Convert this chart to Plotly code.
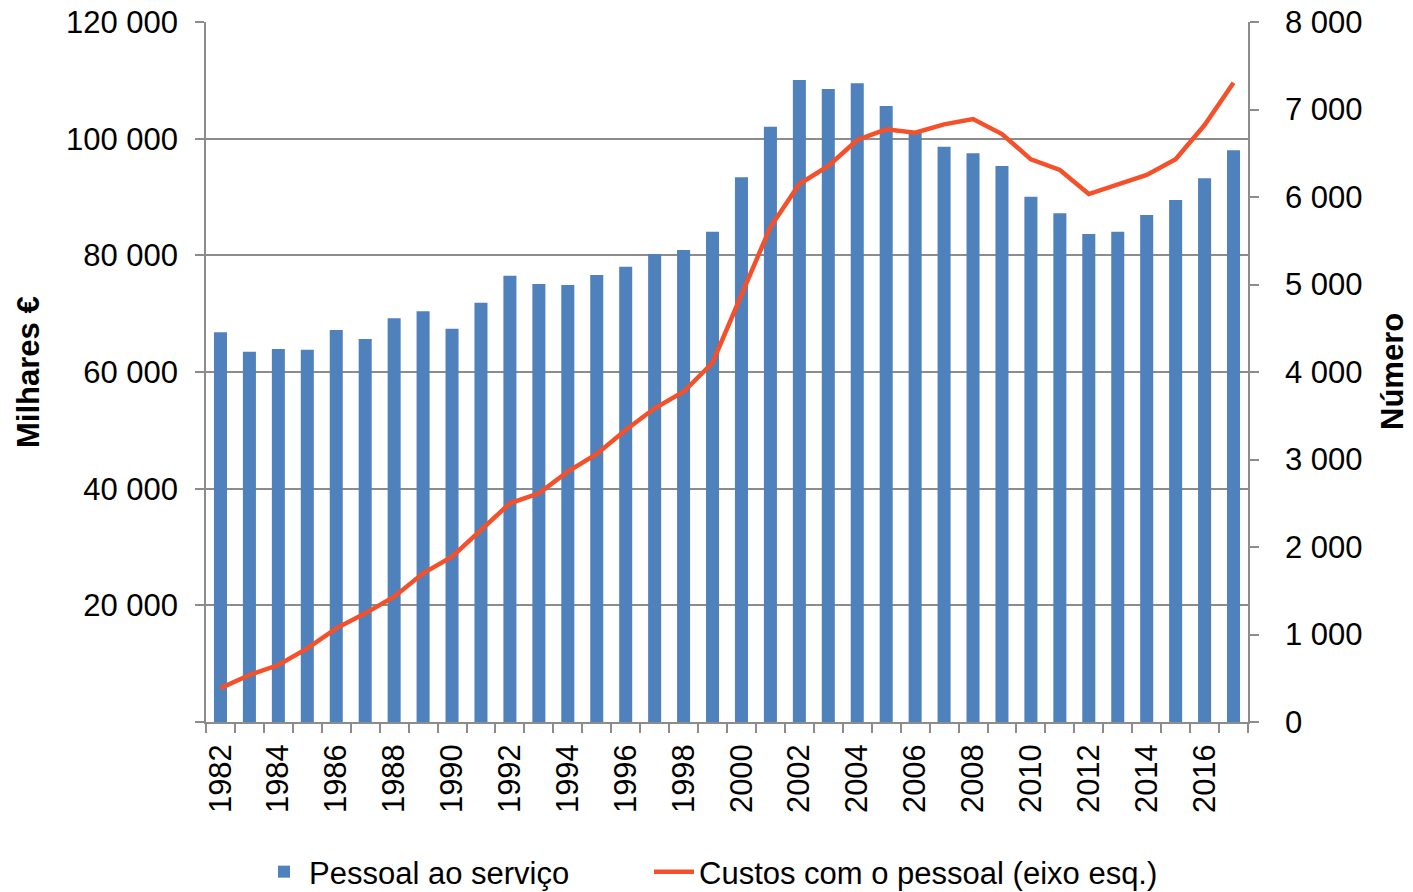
import plotly.graph_objects as go

years = list(range(1982, 2018))

# Pessoal ao serviço (Número, right axis)
pessoal = [4454, 4232, 4263, 4255, 4480, 4377, 4614, 4694, 4495, 4792,
           5101, 5006, 4994, 5109, 5203, 5349, 5394, 5603, 6225, 6803,
           7337, 7234, 7299, 7040, 6731, 6575, 6499, 6354, 6003, 5814,
           5577, 5603, 5794, 5966, 6214, 6534]

# Custos com o pessoal (Milhares €, left axis)
custos = [5800, 8060, 9770, 12630, 16060, 18630, 21480, 25490, 28340, 32910,
          37490, 39210, 42910, 45940, 50060, 53780, 56620, 61590, 73200, 84860,
          92230, 95310, 99770, 101610, 101020, 102460, 103370, 100800, 96460, 94630,
          90510, 92060, 93770, 96460, 102340, 109590]

left_ticks = [0, 20000, 40000, 60000, 80000, 100000, 120000]
right_ticks = [0, 1000, 2000, 3000, 4000, 5000, 6000, 7000, 8000]
year_labels = years[::2]

FONT = "Arial, Liberation Sans, sans-serif"
GRID = "#8c8c8c"
BAR = "#4F81BD"
LINE = "#F4512B"
FS = 31

# the page body has an 8px default margin, so the figure is offset by 8px
OFF = 8
PL, PR, PT, PB = 206, 1248, 22, 722   # plot area in screen pixels
PW, PH = PR - PL, PB - PT

def fmt(v):
    return f"{v:,}".replace(",", " ")

fig = go.Figure()
fig.add_trace(go.Bar(
    x=years, y=pessoal, name="Pessoal ao serviço",
    marker=dict(color=BAR, line=dict(width=0)), width=0.45,
    yaxis="y", legend="legend",
))
fig.add_trace(go.Scatter(
    x=years, y=custos, name="Custos com o pessoal (eixo esq.)",
    mode="lines", line=dict(color=LINE, width=4.5),
    yaxis="y2", legend="legend2",
))

legend_common = dict(orientation="h", xanchor="left", y=(PB - 872) / PH,
                     yanchor="middle", font=dict(size=FS), itemwidth=40,
                     bgcolor="rgba(0,0,0,0)")

W, H = 1413 - OFF, 892 - OFF
fig.update_layout(
    width=W, height=H,
    margin=dict(l=PL - OFF, r=W - (PR - OFF), t=PT - OFF, b=H - (PB - OFF),
                autoexpand=False),
    paper_bgcolor="white", plot_bgcolor="white",
    font=dict(family=FONT, size=FS, color="black"),
    showlegend=True,
    legend=dict(x=(259 - PL) / PW, **legend_common),
    legend2=dict(x=(649 - PL) / PW, **legend_common),
    xaxis=dict(
        range=[1981.5, 2017.5], tickmode="array", tickvals=year_labels,
        ticktext=[str(y) for y in year_labels], tickangle=-90, ticks="",
        showline=True, linecolor=GRID, linewidth=1.5, showgrid=False,
        zeroline=False, tickfont=dict(size=FS), ticklabelstandoff=8,
        automargin=False,
        minor=dict(tickmode="linear", tick0=1981.5, dtick=1, ticks="outside",
                   ticklen=9, tickcolor=GRID, tickwidth=1.5, showgrid=False),
    ),
    yaxis=dict(
        side="right", range=[0, 8000], tickmode="array", tickvals=right_ticks,
        ticktext=[fmt(v) for v in right_ticks], ticks="outside", ticklen=9,
        tickcolor=GRID, tickwidth=1.5, showline=True, linecolor=GRID, linewidth=1.5,
        showgrid=False, zeroline=False, ticklabelstandoff=20, automargin=False,
        ticklabeloverflow="allow",
    ),
    yaxis2=dict(
        overlaying="y", side="left", range=[0, 120000], tickmode="array",
        tickvals=left_ticks, ticktext=["" if v == 0 else fmt(v) for v in left_ticks],
        ticks="outside", ticklen=9, tickcolor=GRID, tickwidth=1.5,
        showline=True, linecolor=GRID, linewidth=1.5,
        showgrid=True, gridcolor=GRID, gridwidth=1.5, zeroline=False,
        ticklabelstandoff=11, automargin=False, ticklabeloverflow="allow",
    ),
    annotations=[
        dict(text="<b>Milhares €</b>", textangle=-90, xref="paper", yref="paper",
             x=(28 - PL) / PW, y=0.5, xanchor="center", yanchor="middle",
             showarrow=False, font=dict(size=FS)),
        dict(text="<b>Número</b>", textangle=-90, xref="paper", yref="paper",
             x=(1392 - PL) / PW, y=0.5, xanchor="center", yanchor="middle",
             showarrow=False, font=dict(size=FS)),
    ],
)

fig.write_html("out.html")
